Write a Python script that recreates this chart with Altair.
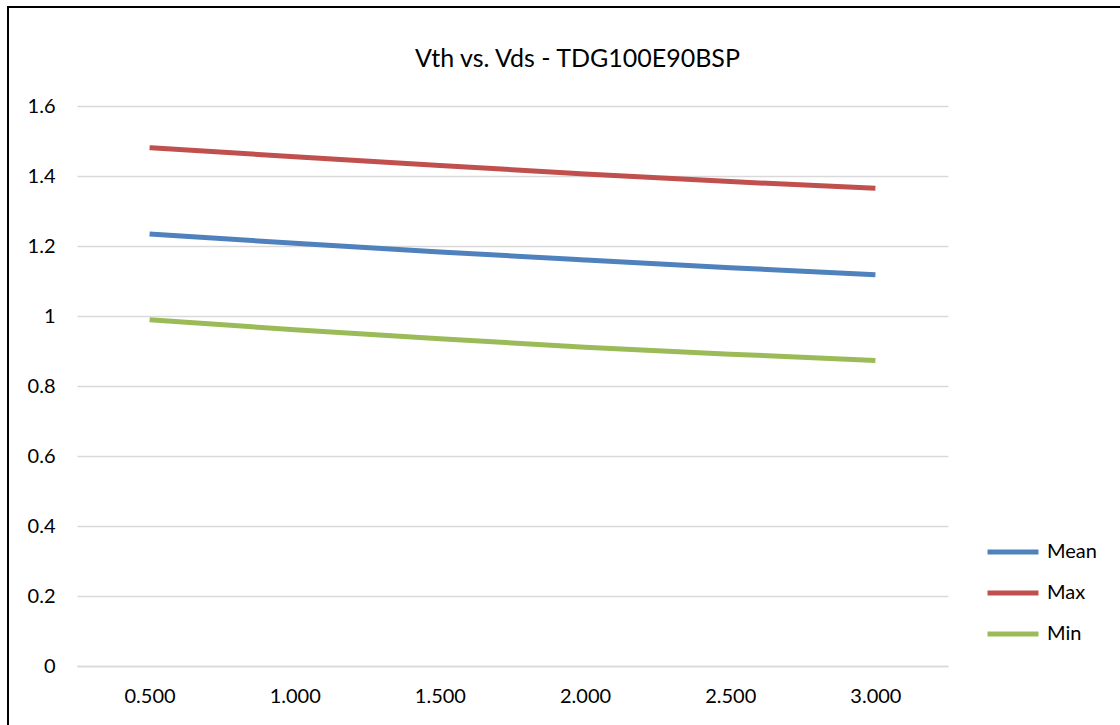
import altair as alt
import pandas as pd

vds = [0.5, 1.0, 1.5, 2.0, 2.5, 3.0]
mean_vals = [1.234, 1.208, 1.183, 1.160, 1.138, 1.118]
max_vals = [1.481, 1.455, 1.430, 1.406, 1.384, 1.365]
min_vals = [0.989, 0.961, 0.935, 0.911, 0.891, 0.873]
series_names = ["Mean", "Max", "Min"]
series_colors = ["#4f81bd", "#c0504d", "#9bbb59"]
y_ticks = [0, 0.2, 0.4, 0.6, 0.8, 1.0, 1.2, 1.4, 1.6]
title_text = "Vth vs. Vds - TDG100E90BSP"

rows = []
for name, vals in zip(series_names, [mean_vals, max_vals, min_vals]):
    for x, v in zip(vds, vals):
        rows.append({"Vds": x, "Vth": v, "Series": name})
df = pd.DataFrame(rows)

FONT = "Lato"
W, H = 871, 560
PL, PT = 77, 106
PR, PB = 1120 - PL - W, 725 - PT - H

lines = alt.Chart(df).mark_line(strokeWidth=5, interpolate="monotone").encode(
    x=alt.X("Vds:Q",
            scale=alt.Scale(domain=[0.25, 3.25], nice=False, zero=False),
            axis=alt.Axis(values=vds, format=".3f", title=None, grid=False,
                          ticks=False, domain=True, domainColor="#d9d9d9",
                          domainWidth=1.5, labelFont=FONT, labelFontSize=20,
                          labelColor="#000", labelPadding=20)),
    y=alt.Y("Vth:Q",
            scale=alt.Scale(domain=[0, 1.6], nice=False),
            axis=alt.Axis(values=y_ticks, format="~g", title=None, grid=True,
                          gridColor="#d9d9d9", gridWidth=1.5, ticks=False,
                          domain=False, labelFont=FONT, labelFontSize=20,
                          labelColor="#000", labelPadding=22)),
    color=alt.Color("Series:N",
                    scale=alt.Scale(domain=series_names, range=series_colors),
                    sort=series_names,
                    legend=alt.Legend(orient="none", legendX=908, legendY=418,
                                      title=None, symbolType="stroke",
                                      symbolSize=2601, symbolStrokeWidth=5,
                                      labelFont=FONT, labelFontSize=20,
                                      labelColor="#000", labelOffset=6,
                                      padding=0, rowPadding=3)),
)

frame = alt.Chart(alt.Data(values=[{"a": 1}])).mark_rect(
    fill="transparent", stroke="#000", strokeWidth=2
).encode(
    x=alt.value(-69), x2=alt.value(W + PR + 50),
    y=alt.value(-99), y2=alt.value(H + PB + 50),
)

chart = alt.layer(frame, lines).properties(
    width=W, height=H,
    title=alt.TitleParams(title_text, font=FONT, fontSize=25, fontWeight="normal",
                          color="#000", anchor="middle", dx=65, offset=-66),
    autosize=alt.AutoSizeParams(type="none"),
    padding={"left": PL, "top": PT, "right": PR, "bottom": PB},
).configure(background="white").configure_view(stroke=None)

chart.save("out.html", embed_options={"renderer": "svg", "actions": False})
